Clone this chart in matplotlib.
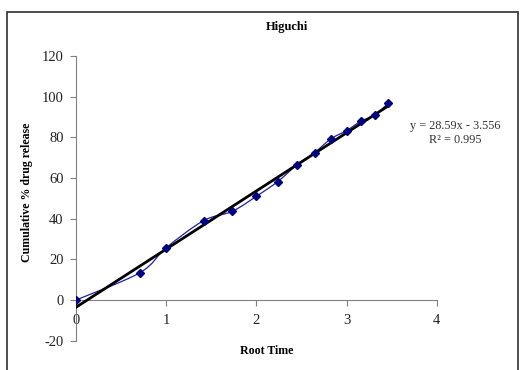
import numpy as np
import matplotlib
matplotlib.use("Agg")
import matplotlib.pyplot as plt
from matplotlib.path import Path
from matplotlib.patches import PathPatch, Rectangle

# datos
root_time = [0, 0.707, 1.0, 1.414, 1.732, 2.0, 2.236, 2.449, 2.646, 2.828, 3.0, 3.162, 3.317, 3.464]
drug_release = [0, 13.4, 25.7, 39.0, 43.6, 51.0, 58.2, 66.4, 72.5, 79.3, 83.3, 88.0, 91.0, 96.9]
slope = 28.59
intercept = -3.556
r2 = 0.995

plt.rcParams['font.family'] = ['Liberation Serif', 'DejaVu Serif']
plt.rcParams['axes.unicode_minus'] = False

fig = plt.figure(figsize=(5.21, 3.70), dpi=100)
fig.patches.append(Rectangle((7/521, -0.05), 511/521, 1.05 - 12/370, transform=fig.transFigure,
                             fill=False, edgecolor='#303030', linewidth=1.2))

ax = fig.add_axes([76/521, 29.3/370, 360.7/521, 284.7/370])

# linea suavizada tipo excel (bezier entre puntos)
x = np.array(root_time)
y = np.array(drug_release)
verts = [(x[0], y[0])]
codes = [Path.MOVETO]
t = 1/6
for i in range(len(x) - 1):
    x0, y0 = (x[i-1], y[i-1]) if i > 0 else (x[i], y[i])
    x3, y3 = (x[i+2], y[i+2]) if i + 2 < len(x) else (x[i+1], y[i+1])
    c1 = (x[i] + (x[i+1] - x0) * t, y[i] + (y[i+1] - y0) * t)
    c2 = (x[i+1] - (x3 - x[i]) * t, y[i+1] - (y3 - y[i]) * t)
    verts += [c1, c2, (x[i+1], y[i+1])]
    codes += [Path.CURVE4, Path.CURVE4, Path.CURVE4]
ax.add_patch(PathPatch(Path(verts, codes), facecolor='none', edgecolor='#2020a8', linewidth=0.9, zorder=2))

xt = np.array([0, max(root_time)])
ax.plot(xt, slope * xt + intercept, color='black', linewidth=2, zorder=3)
ax.plot(root_time, drug_release, linestyle='none', marker='D', markersize=3.6,
        color='#000080', zorder=4)

ax.set_xlim(0, 4)
ax.set_ylim(-20, 120)
ax.set_xticks([0, 1, 2, 3, 4])
ax.set_yticks(range(-20, 121, 20))
ax.spines['top'].set_visible(False)
ax.spines['right'].set_visible(False)
ax.spines['bottom'].set_position(('data', 0))
for s in ['left', 'bottom']:
    ax.spines[s].set_color('#808080')
ax.tick_params(axis='both', colors='#808080', labelcolor='#222222', labelsize=10.5, length=4, direction='out')
ax.tick_params(axis='y', pad=5)
ax.tick_params(axis='x', pad=6)

fig.text(287/521, 1 - 27/370, "Higuchi", ha='center', va='center', fontsize=9, fontweight='bold')
fig.text(267/521, 1 - 351/370, "Root Time", ha='center', va='center', fontsize=8.6, fontweight='bold')
fig.text(27/521, 1 - 192/370, "Cumulative % drug release", ha='center', va='center', rotation=90,
         fontsize=8.6, fontweight='bold')
fig.text(455/521, 1 - 126/370, "y = %.2fx - %.3f" % (slope, -intercept), ha='center', va='center',
         fontsize=8.8, color='#333333')
fig.text(455/521, 1 - 140/370, "R² = %.3f" % r2, ha='center', va='center', fontsize=8.8, color='#333333')

fig.savefig("out.png", dpi=100)
